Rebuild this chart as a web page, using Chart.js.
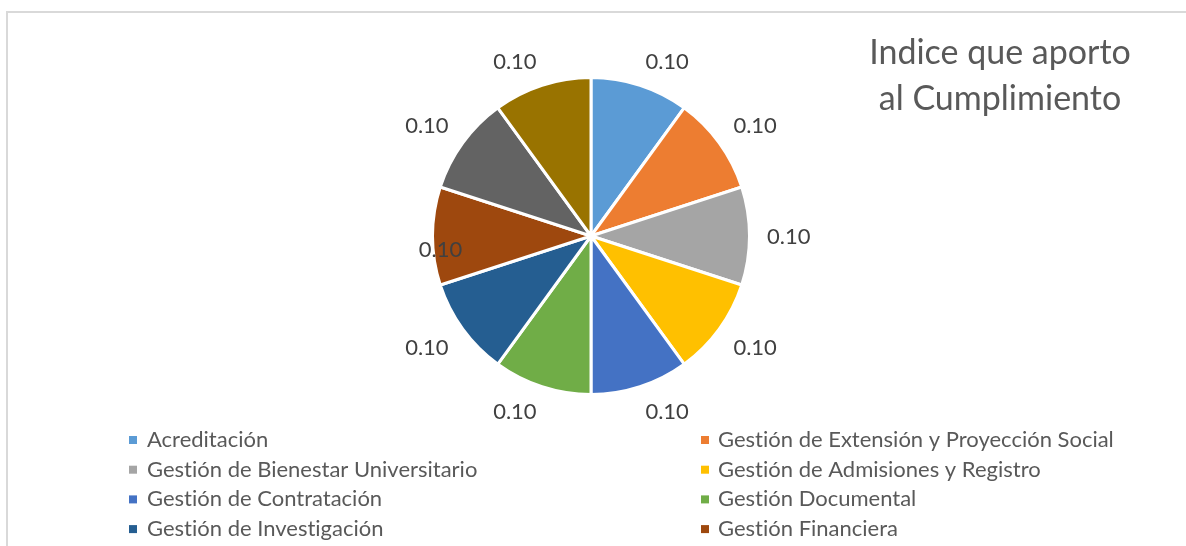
<!DOCTYPE html>
<html>
<head>
<meta charset="utf-8">
<script src="https://cdn.jsdelivr.net/npm/chart.js@4.4.0/dist/chart.umd.min.js"></script>
<style>
  html, body { margin: 0; padding: 0; background: #fff; overflow: hidden; }
  #frame { position: absolute; left: 6px; top: 11px; width: 1300px; height: 700px; border: 2px solid #d9d9d9; }
  #wrap { position: absolute; left: 0; top: 0; width: 1186px; height: 546px; }
</style>
</head>
<body>
<div id="frame"></div>
<div id="wrap"><canvas id="myChart" width="1186" height="546"></canvas></div>
<script>
// legend names that can be read in the picture (the last two rows are cut off)
const categories = [
  'Acreditación',
  'Gestión de Extensión y Proyección Social',
  'Gestión de Bienestar Universitario',
  'Gestión de Admisiones y Registro',
  'Gestión de Contratación',
  'Gestión Documental',
  'Gestión de Investigación',
  'Gestión Financiera'
];
const values = [0.10, 0.10, 0.10, 0.10, 0.10, 0.10, 0.10, 0.10, 0.10, 0.10];
const sliceColors = ['#5B9BD5', '#ED7D31', '#A5A5A5', '#FFC000', '#4472C4',
                     '#70AD47', '#255E91', '#9E480E', '#636363', '#997300'];
const titleLines = ['Indice que aporto', 'al Cumplimiento'];

const FONT = 'Lato, "Open Sans", sans-serif';

// labels, title and the two-column legend drawn the Excel way
const officeLook = {
  id: 'officeLook',
  afterDatasetsDraw(chart) {
    const ctx = chart.ctx;
    const meta = chart.getDatasetMeta(0);
    ctx.save();
    if ('textRendering' in ctx) ctx.textRendering = 'optimizeSpeed'; // no "ti" ligature

    // data labels outside each slice
    ctx.font = '22px ' + FONT;
    ctx.fillStyle = '#404040';
    ctx.textAlign = 'center';
    ctx.textBaseline = 'alphabetic';
    const digitH = 15.5;
    meta.data.forEach((arc, i) => {
      const p = arc.getProps(['x', 'y', 'startAngle', 'endAngle', 'outerRadius'], true);
      const mid = (p.startAngle + p.endAngle) / 2;
      const ux = Math.cos(mid), uy = Math.sin(mid);
      const txt = values[i].toFixed(2);
      const w = ctx.measureText(txt).width;
      const r = p.outerRadius + 17.5;
      let x = p.x + ux * r + Math.sign(ux) * w / 2;
      let y = p.y + uy * r + (Math.abs(uy) < 0.05 ? 0 : Math.sign(uy) * digitH / 2);
      if (i === 7) { // excel dropped this one onto the slice
        x = p.x + ux * (p.outerRadius - 8);
        y = p.y + 13;
      }
      ctx.fillText(txt, x, y + digitH / 2);
    });

    // title, top right
    ctx.font = '34px ' + FONT;
    ctx.fillStyle = '#595959';
    ctx.fillText(titleLines[0], 1000, 64);
    ctx.fillText(titleLines[1], 1000, 110);

    // legend in two columns
    ctx.font = '22px ' + FONT;
    ctx.textAlign = 'left';
    const markX = [129, 701], textX = [147, 718];
    categories.forEach((name, i) => {
      const col = i % 2, row = Math.floor(i / 2);
      const base = 447 + row * 29.7;
      ctx.fillStyle = sliceColors[i];
      ctx.fillRect(markX[col], base - 11, 8, 8);
      ctx.fillStyle = '#595959';
      ctx.fillText(name, textX[col], base);
    });
    ctx.restore();
  }
};

function draw() {
  const ctx = document.getElementById('myChart').getContext('2d');
  new Chart(ctx, {
    type: 'pie',
    data: {
      labels: categories,
      datasets: [{
        data: values,
        backgroundColor: sliceColors,
        borderColor: '#ffffff',
        borderWidth: 3,
        hoverOffset: 0,
        offset: 0
      }]
    },
    options: {
      responsive: false,
      animation: false,
      layout: { padding: { left: 431, right: 435, top: 76, bottom: 150 } },
      plugins: {
        legend: { display: false },
        tooltip: { enabled: false },
        title: { display: false }
      }
    },
    plugins: [officeLook]
  });
}

if (document.fonts && document.fonts.load) {
  Promise.all([document.fonts.load('22px Lato'), document.fonts.load('34px Lato')])
    .then(draw, draw);
} else {
  draw();
}
</script>
</body>
</html>
